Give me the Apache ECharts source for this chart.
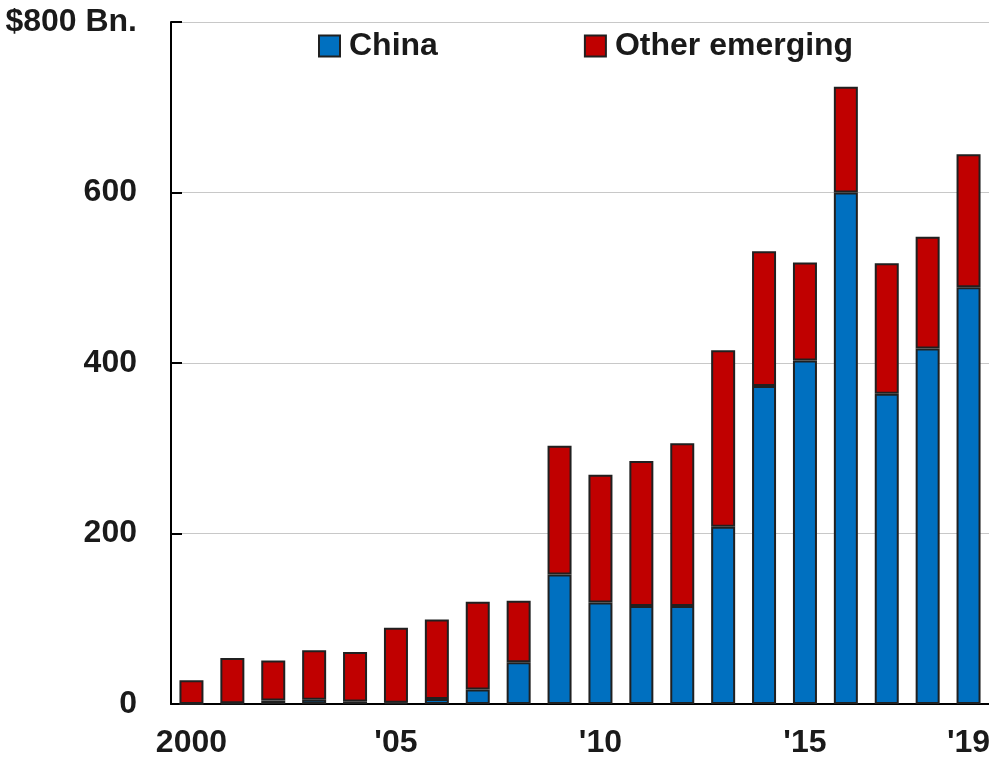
<!DOCTYPE html>
<html>
<head>
<meta charset="utf-8">
<script src="https://cdn.jsdelivr.net/npm/echarts@6/dist/echarts.min.js"></script>
<style>
html,body{margin:0;padding:0;background:#fff;}
#chart{width:989px;height:758px;}
</style>
</head>
<body>
<div id="chart"></div>
<script>
const years = ['2000','2001','2002','2003','2004','2005','2006','2007','2008','2009','2010','2011','2012','2013','2014','2015','2016','2017','2018','2019'];
const tickLabels = {'2000':'2000','2005':"'05",'2010':"'10",'2015':"'15",'2019':"'19"};
const china = [0, 1, 4, 5, 3, 1.5, 6, 17, 49, 152, 119, 115, 115, 208, 373, 403, 600, 364, 417, 489];
const otherEmerging = [28, 53, 47, 58, 58, 88, 93, 103, 72, 151, 150, 170, 191, 207, 158, 115, 124, 153, 131, 156];
const yTicks = [0, 200, 400, 600, 800];

const FONT = '"Liberation Sans Narrow", "Arial Narrow", "Liberation Sans", Arial, sans-serif';
const FS = 32;
const chart = echarts.init(document.getElementById('chart'));
chart.setOption({
  animation: false,
  backgroundColor: '#fff',
  textStyle: { fontFamily: FONT },
  legend: {
    left: 318, top: 30, padding: 0,
    itemWidth: 21, itemHeight: 21, itemGap: 146,
    icon: 'rect',
    textStyle: { fontFamily: FONT, fontWeight: 'bold', fontSize: FS, color: '#1a1a1a', padding: [0,0,0,4] },
    data: ['China', 'Other emerging']
  },
  grid: { left: 171, right: 0, top: 22, bottom: 54, containLabel: false, outerBoundsMode: 'none' },
  xAxis: {
    type: 'category',
    data: years,
    axisLine: { lineStyle: { color: '#000', width: 2 } },
    axisTick: { show: false },
    axisLabel: {
      interval: 0, margin: 23,
      fontFamily: FONT, fontWeight: 'bold', fontSize: FS, color: '#1a1a1a',
      formatter: v => tickLabels[v] || ''
    }
  },
  yAxis: {
    type: 'value',
    min: yTicks[0], max: yTicks[yTicks.length-1], interval: 200,
    axisLine: { show: true, lineStyle: { color: '#000', width: 2 } },
    axisTick: { show: true, inside: true, length: 11, lineStyle: { color: '#000', width: 2 } },
    splitLine: { show: true, lineStyle: { color: '#c8c8c8', width: 1 } },
    axisLabel: {
      margin: 34,
      fontFamily: FONT, fontWeight: 'bold', fontSize: FS, color: '#1a1a1a',
      formatter: v => v === 800 ? '$800 Bn.' : String(v)
    }
  },
  series: [
    {
      name: 'China', type: 'bar', stack: 'total', data: china, barWidth: 24,
      itemStyle: { color: '#0070C0', borderColor: '#202020', borderWidth: 2 }
    },
    {
      name: 'Other emerging', type: 'bar', stack: 'total', data: otherEmerging, barWidth: 24,
      itemStyle: { color: '#C00000', borderColor: '#202020', borderWidth: 2 }
    }
  ]
});
</script>
</body>
</html>
